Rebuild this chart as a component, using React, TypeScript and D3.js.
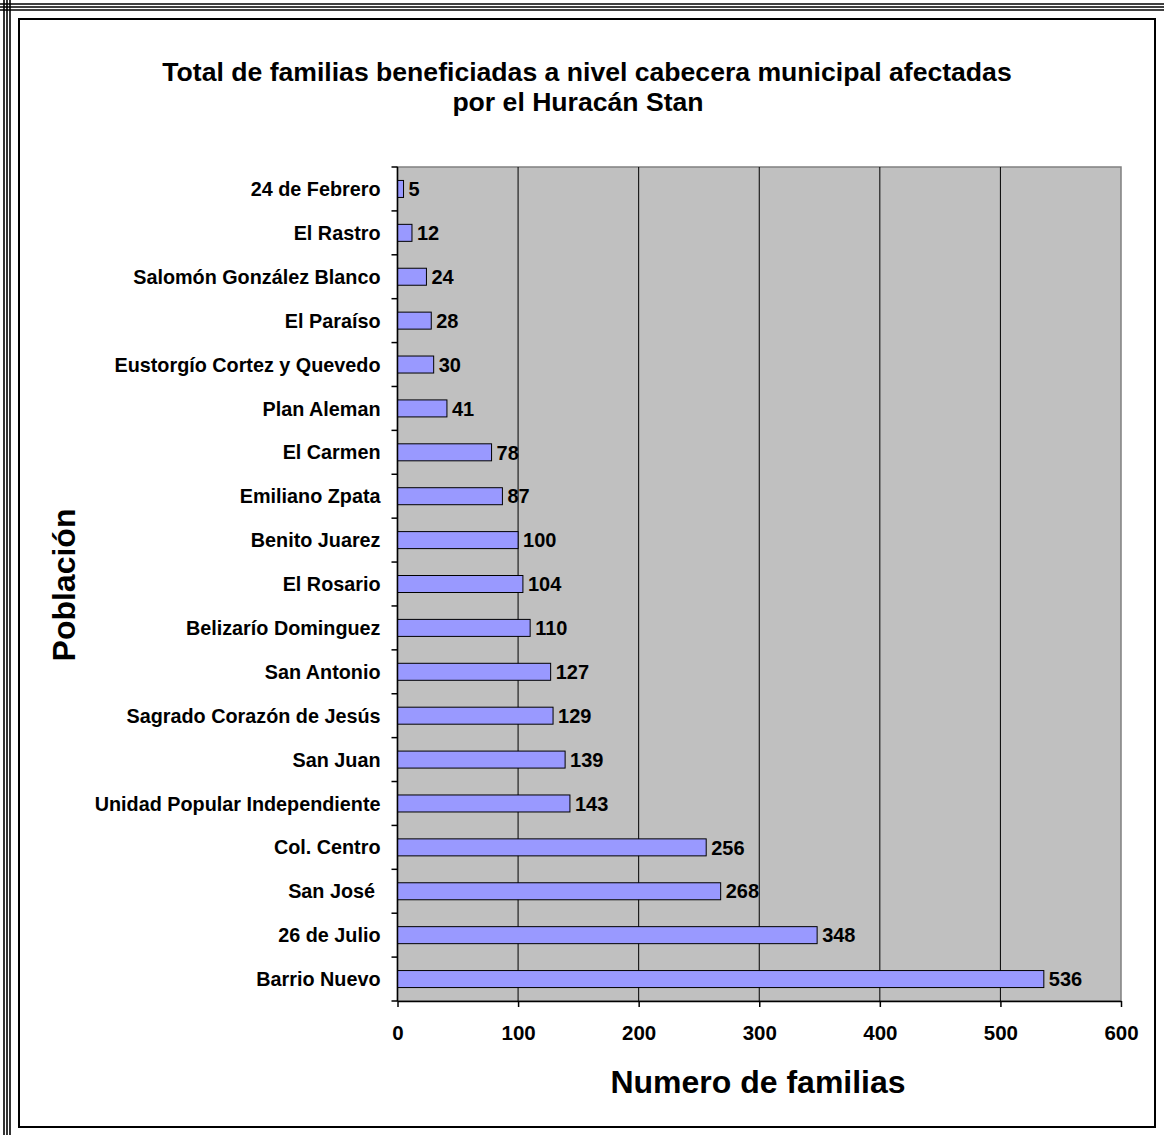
import * as d3 from "d3";
import React, { useEffect, useRef } from "react";

const categories = [
  "24 de Febrero",
  "El Rastro",
  "Salomón González Blanco",
  "El Paraíso",
  "Eustorgío Cortez y Quevedo",
  "Plan Aleman",
  "El Carmen",
  "Emiliano Zpata",
  "Benito Juarez",
  "El Rosario",
  "Belizarío Dominguez",
  "San Antonio",
  "Sagrado Corazón de Jesús",
  "San Juan",
  "Unidad Popular Independiente",
  "Col. Centro",
  "San José ",
  "26 de Julio",
  "Barrio Nuevo",
];
const values = [5, 12, 24, 28, 30, 41, 78, 87, 100, 104, 110, 127, 129, 139, 143, 256, 268, 348, 536];
const xTicks = [0, 100, 200, 300, 400, 500, 600];

const W = 1164;
const H = 1135;
const FONT = "'Liberation Sans', Arial, sans-serif";

const App: React.FC = () => {
  const svgRef = useRef<SVGSVGElement>(null);

  useEffect(() => {
    document.body.style.margin = "0";
    const svg = d3.select(svgRef.current);
    svg.selectAll("*").remove();

    const left = 397.5;
    const right = 1121;
    const top = 167;
    const bottom = 1001;

    svg.append("rect").attr("width", W).attr("height", H).attr("fill", "#fff");

    // outer triple border (top and left)
    [4, 7, 10].forEach((p) => {
      svg.append("line").attr("x1", 0).attr("x2", W).attr("y1", p).attr("y2", p)
        .attr("stroke", "#000").attr("stroke-width", 1.6);
      svg.append("line").attr("x1", p).attr("x2", p).attr("y1", 0).attr("y2", H)
        .attr("stroke", "#000").attr("stroke-width", 1.6);
    });
    // inner frame
    svg.append("rect").attr("x", 19).attr("y", 19).attr("width", 1136).attr("height", 1108)
      .attr("fill", "#fff").attr("stroke", "#000").attr("stroke-width", 2);

    const x = d3.scaleLinear().domain([0, 600]).range([left, right]);
    const y = d3.scaleBand().domain(categories).range([top, bottom]);

    // plot area
    svg.append("rect").attr("x", left).attr("y", top).attr("width", right - left)
      .attr("height", bottom - top).attr("fill", "#C0C0C0").attr("stroke", "#808080").attr("stroke-width", 1.5);

    // grid
    svg.append("g").selectAll("line").data(xTicks.slice(1, -1)).join("line")
      .attr("x1", (d) => x(d)).attr("x2", (d) => x(d)).attr("y1", top).attr("y2", bottom)
      .attr("stroke", "#000").attr("stroke-width", 1);

    // bars
    const barH = 17;
    svg.append("g").selectAll("rect").data(values).join("rect")
      .attr("x", x(0))
      .attr("y", (_, i) => (y(categories[i]) as number) + y.bandwidth() / 2 - barH / 2)
      .attr("width", (d) => x(d) - x(0))
      .attr("height", barH)
      .attr("fill", "#9999FF").attr("stroke", "#000").attr("stroke-width", 1);

    // value labels
    svg.append("g").selectAll("text").data(values).join("text")
      .attr("x", (d) => x(d) + 5)
      .attr("y", (_, i) => (y(categories[i]) as number) + y.bandwidth() / 2)
      .attr("dy", "0.36em")
      .attr("font-family", FONT).attr("font-weight", "bold").attr("font-size", 20)
      .text((d) => d);

    // x axis
    const xAxis = svg.append("g").attr("transform", `translate(0,${bottom})`)
      .call(d3.axisBottom(x).tickValues(xTicks).tickSize(6).tickSizeOuter(0).tickPadding(18));
    xAxis.select(".domain").attr("stroke", "#000").attr("stroke-width", 1.5);
    xAxis.selectAll("line").attr("stroke", "#000").attr("stroke-width", 1.5);
    xAxis.selectAll("text").attr("font-family", FONT).attr("font-weight", "bold")
      .attr("font-size", 20.5).attr("fill", "#000");

    // y axis
    const bounds = d3.range(categories.length + 1).map((i) => top + i * y.step());
    svg.append("line").attr("x1", left).attr("x2", left).attr("y1", top).attr("y2", bottom)
      .attr("stroke", "#000").attr("stroke-width", 1.5);
    svg.append("g").selectAll("line").data(bounds).join("line")
      .attr("x1", left - 6).attr("x2", left).attr("y1", (d) => d).attr("y2", (d) => d)
      .attr("stroke", "#000").attr("stroke-width", 1.5);
    svg.append("g").selectAll("text").data(categories).join("text")
      .attr("x", left - 17)
      .attr("y", (d) => (y(d) as number) + y.bandwidth() / 2)
      .attr("dy", "0.36em")
      .attr("text-anchor", "end")
      .style("white-space", "pre")
      .attr("font-family", FONT).attr("font-weight", "bold").attr("font-size", 19.8)
      .text((d) => d);

    // titles
    const title = svg.append("text").attr("text-anchor", "middle")
      .attr("font-family", FONT).attr("font-weight", "bold").attr("font-size", 26.6);
    title.append("tspan").attr("x", 587).attr("y", 81)
      .text("Total de familias beneficiadas a nivel cabecera municipal afectadas");
    title.append("tspan").attr("x", 578).attr("y", 111).text("por el Huracán Stan");

    svg.append("text").attr("transform", `translate(75,585) rotate(-90)`)
      .attr("text-anchor", "middle")
      .attr("font-family", FONT).attr("font-weight", "bold").attr("font-size", 32)
      .text("Población");

    svg.append("text").attr("x", 758).attr("y", 1093).attr("text-anchor", "middle")
      .attr("font-family", FONT).attr("font-weight", "bold").attr("font-size", 32)
      .text("Numero de familias");
  }, []);

  return <svg ref={svgRef} width={W} height={H} style={{ display: "block" }} />;
};

export default App;
